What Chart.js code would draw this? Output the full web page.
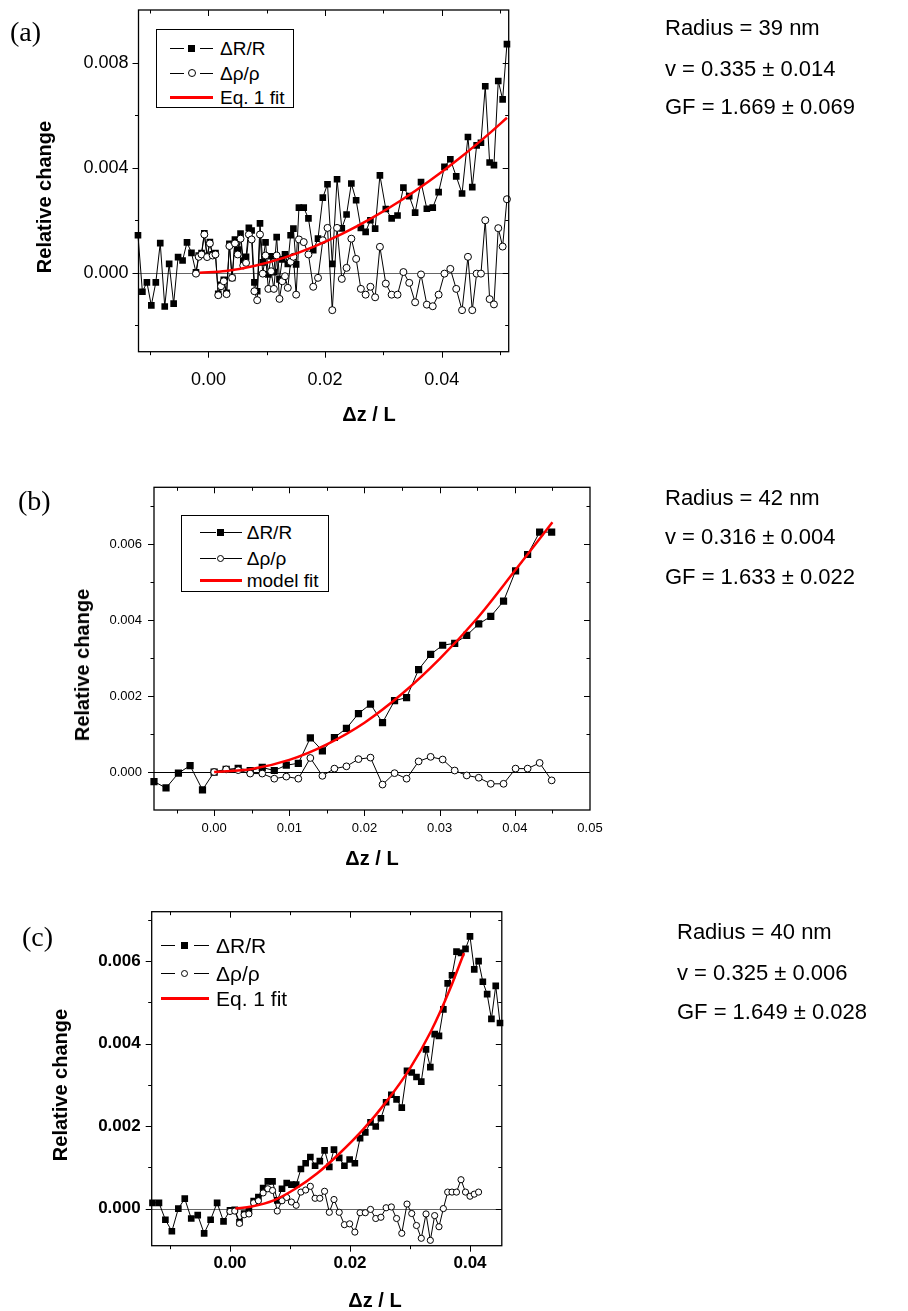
<!DOCTYPE html>
<html>
<head>
<meta charset="utf-8">
<script src="https://cdn.jsdelivr.net/npm/chart.js@4.4.1/dist/chart.umd.min.js"></script>
<style>
  body { margin: 0; background: #fff; width: 908px; height: 1311px; position: relative; overflow: hidden;
         font-family: "Liberation Sans", Arial, Helvetica, sans-serif; color: #000; }
  canvas { position: absolute; left: 0; }
  .o { position: absolute; white-space: nowrap; }
</style>
</head>
<body>
<canvas id="chartA" width="908" height="460" style="top:-20px"></canvas>
<canvas id="chartB" width="908" height="440" style="top:440px"></canvas>
<canvas id="chartC" width="908" height="431" style="top:880px"></canvas>
<div id="overlay"></div>

<script>
/* ===== data ===== */

// panel (a) : Radius = 39 nm
const dzA = [-0.01209,-0.01133,-0.01056,-0.00980,-0.00903,-0.00827,-0.00750,-0.00674,-0.00597,-0.00521,
  -0.00444,-0.00368,-0.00291,-0.00214,-0.00167,-0.00119,-0.00071,-0.00023,0.00024,0.00072,
  0.00120,0.00168,0.00215,0.00263,0.00311,0.00359,0.00406,0.00454,0.00502,0.00550,
  0.00597,0.00645,0.00693,0.00740,0.00788,0.00836,0.00884,0.00931,0.00979,0.01027,
  0.01075,0.01122,0.01170,0.01218,0.01266,0.01313,0.01361,0.01409,0.01457,0.01504,
  0.01552,0.01634,0.01715,0.01797,0.01879,0.01961,0.02042,0.02124,0.02206,0.02287,
  0.02369,0.02451,0.02533,0.02614,0.02696,0.02778,0.02859,0.02941,0.03042,0.03142,
  0.03243,0.03344,0.03444,0.03545,0.03646,0.03746,0.03847,0.03948,0.04048,0.04149,
  0.04250,0.04350,0.04451,0.04525,0.04600,0.04674,0.04748,0.04823,0.04897,0.04971,
  0.05046,0.05120];
const dRA = [0.00143,-0.00072,-0.00036,-0.00124,-0.00036,0.00113,-0.00128,0.00034,-0.00117,0.00060,
  0.00047,0.00116,0.00076,0.00002,0.00066,0.00075,0.00150,0.00065,0.00117,0.00070,
  0.00075,-0.00080,-0.00046,-0.00027,-0.00076,0.00110,-0.00019,0.00127,0.00089,0.00149,
  0.00047,0.00061,0.00171,0.00161,-0.00036,-0.00070,0.00188,0.00040,0.00116,-0.00006,
  0.00063,0.00003,0.00136,-0.00025,0.00051,0.00070,0.00034,0.00143,0.00168,0.00032,
  0.00248,0.00248,0.00207,0.00086,0.00130,0.00286,0.00337,0.00034,0.00356,0.00169,
  0.00222,0.00340,0.00276,0.00171,0.00156,0.00200,0.00168,0.00371,0.00243,0.00207,
  0.00218,0.00324,0.00292,0.00229,0.00345,0.00244,0.00248,0.00307,0.00403,0.00432,
  0.00367,0.00302,0.00517,0.00326,0.00485,0.00495,0.00710,0.00420,0.00410,0.00730,
  0.00660,0.00870];
const dRhoA = [null,null,null,null,null,null,null,null,null,null,null,null,null,
  -0.00003,0.00061,0.00070,0.00146,0.00060,0.00112,0.00066,0.00070,-0.00085,-0.00051,
  -0.00032,-0.00081,0.00102,-0.00019,0.00112,0.00070,0.00130,0.00028,0.00038,0.00146,
  0.00127,-0.00070,-0.00104,0.00146,-0.00003,0.00066,-0.00061,0.00006,-0.00061,0.00066,
  -0.00099,-0.00032,-0.00013,-0.00057,0.00042,0.00061,-0.00083,0.00127,0.00117,0.00070,
  -0.00053,-0.00019,0.00124,0.00171,-0.00142,0.00171,-0.00023,0.00019,0.00130,0.00053,
  -0.00061,-0.00083,-0.00053,-0.00093,0.00099,-0.00041,-0.00083,-0.00083,0.00003,-0.00038,
  -0.00112,-0.00006,-0.00121,-0.00127,-0.00083,-0.00003,0.00015,-0.00061,-0.00142,0.00061,
  -0.00142,-0.00003,-0.00003,0.00200,-0.00100,-0.00120,0.00170,0.00100,0.00280];
const fitXA = [-0.0015,0.003,0.008,0.013,0.018,0.023,0.028,0.033,0.038,0.043,0.048,0.0512];
const fitYA = [0,0.00007,0.00027,0.00058,0.00099,0.00149,0.00208,0.00275,0.00351,0.00435,0.00527,0.0059];
const xTicksA = [0, 0.02, 0.04];
const yTicksA = [0, 0.004, 0.008];

// panel (b) : Radius = 42 nm
const dzB = [-0.0080,-0.0064,-0.00475,-0.0032,-0.00155,0,0.0016,0.0032,0.0048,0.0064,
  0.0080,0.0096,0.0112,0.0128,0.0144,0.0160,0.0176,0.0192,0.0208,0.0224,
  0.0240,0.0256,0.0272,0.0288,0.0304,0.0320,0.0336,0.0352,0.0368,0.0385,
  0.0401,0.0417,0.0433,0.0449];
const dRB = [-0.00025,-0.00042,-0.00003,0.00017,-0.00047,0,0.00007,0.00010,0.00004,0.00012,
  0.00004,0.00018,0.00023,0.00090,0.00056,0.00091,0.00115,0.00154,0.00179,0.00130,
  0.00188,0.00196,0.00270,0.00310,0.00334,0.00339,0.00360,0.00390,0.00410,0.00450,
  0.00530,0.00573,0.00632,0.00632];
const dRhoB = [null,null,null,null,null,
  0,0.00007,0.00005,-0.00004,-0.00004,-0.000175,-0.00012,-0.000175,0.00037,-0.00010,
  0.00009,0.00015,0.00034,0.00038,-0.00033,-0.00003,-0.000175,0.00028,0.00040,0.00033,
  0.00004,-0.00009,-0.00015,-0.00031,-0.00031,0.00009,0.00009,0.00024,-0.00022];
const fitXB = [0,0.005,0.01,0.015,0.02,0.025,0.03,0.035,0.04,0.045];
const fitYB = [0,0.00008,0.00032,0.00073,0.0013,0.00206,0.00298,0.00405,0.0053,0.00658];
const xTicksB = [0, 0.01, 0.02, 0.03, 0.04, 0.05];
const yTicksB = [0, 0.002, 0.004, 0.006];

// panel (c) : Radius = 40 nm
const dzC = [-0.01292,-0.01184,-0.01077,-0.00969,-0.00861,-0.00754,-0.00646,-0.00538,-0.00431,-0.00323,
  -0.00215,-0.00108,0,0.00079,0.00158,0.00236,0.00315,0.00394,0.00473,0.00552,
  0.00630,0.00709,0.00788,0.00867,0.00945,0.01024,0.01103,0.01182,0.01261,0.01339,
  0.01418,0.01497,0.01576,0.01655,0.01733,0.01820,0.01907,0.01994,0.02081,0.02168,
  0.02255,0.02342,0.02429,0.02515,0.02602,0.02689,0.02776,0.02863,0.02950,0.03029,
  0.03108,0.03188,0.03267,0.03339,0.03411,0.03483,0.03556,0.03628,0.03700,0.03775,
  0.03850,0.03925,0.04000,0.04071,0.04143,0.04214,0.04286,0.04357,0.04429,0.04500];
const dRC = [0.00014,0.00014,-0.00027,-0.00055,0.00000,0.00024,-0.00024,-0.00016,-0.00060,-0.00027,
  0.00014,-0.00031,-0.00004,-0.00003,-0.00033,-0.00012,-0.00005,0.00018,0.00028,0.00050,
  0.00066,0.00066,0.00020,0.00048,0.00062,0.00058,0.00058,0.00096,0.00110,0.00125,
  0.00104,0.00115,0.00141,0.00101,0.00143,0.00123,0.00104,0.00119,0.00110,0.00171,
  0.00185,0.00209,0.00199,0.00219,0.00258,0.00276,0.00265,0.00245,0.00334,0.00330,
  0.00319,0.00308,0.00386,0.00343,0.00423,0.00419,0.00483,0.00546,0.00566,0.00623,
  0.00620,0.00630,0.00660,0.00580,0.00600,0.00550,0.00520,0.00460,0.00540,0.00450];
const dRhoC = [null,null,null,null,null,null,null,null,null,null,null,null,
  -0.00007,-0.00006,-0.00036,-0.00015,-0.00013,0.00014,0.00019,0.00038,0.00048,0.00044,
  -0.00006,0.00019,0.00027,0.00016,0.00008,0.00040,0.00045,0.00054,0.00025,0.00025,
  0.00042,-0.00009,0.00022,-0.00009,-0.00039,-0.00037,-0.00057,-0.00010,-0.00010,-0.00002,
  -0.00024,-0.00021,0.00002,0.00004,-0.00024,-0.00060,0.00011,-0.00012,-0.00041,-0.00072,
  -0.00013,-0.00077,-0.00017,-0.00044,0.00000,0.00040,0.00040,0.00040,0.00070,0.00040,
  0.00030,0.00035,0.00040,null,null,null,null,null];
const fitXC = [0.0009,0.0036,0.0073,0.0109,0.0145,0.0182,0.0222,0.0261,0.0300,0.0335,0.0366,0.0390];
const fitYC = [0,0.00005,0.0002,0.00048,0.00085,0.00133,0.00192,0.0026,0.0034,0.0043,0.0053,0.0062];
const xTicksC = [0, 0.02, 0.04];
const yTicksC = [0, 0.002, 0.004, 0.006];

/* ===== drawing ===== */

const FONT = '"Liberation Sans", Arial, Helvetica, sans-serif';

function pts(xs, ys) {
  return xs.map((x, i) => ({ x: x, y: ys[i] })).filter(p => p.y !== null && p.y !== undefined);
}

function labelFor(v, list, dec) {
  const hit = list.some(l => Math.abs(l - v) < 1e-9);
  if (!hit) return '';
  return (Math.abs(v) < 1e-12 ? 0 : v).toFixed(dec);
}

// box frame, ticks (out on left/bottom, in on top/right) and the zero line
const frameTicks = {
  id: 'frameTicks',
  beforeDatasetsDraw(chart, args, o) {
    const { ctx, chartArea: a, scales: { y } } = chart;
    const y0 = Math.round(y.getPixelForValue(0)) + 0.5;
    ctx.save();
    ctx.strokeStyle = o.zero;
    ctx.lineWidth = 1;
    ctx.beginPath(); ctx.moveTo(a.left, y0); ctx.lineTo(a.right, y0); ctx.stroke();
    ctx.restore();
  },
  afterDatasetsDraw(chart, args, o) {
    const { ctx, chartArea: a, scales: { x, y } } = chart;
    ctx.save();
    ctx.strokeStyle = '#000';
    ctx.lineWidth = 1;
    ctx.beginPath();
    x.ticks.forEach(t => {
      const p = Math.round(x.getPixelForValue(t.value)) + 0.5;
      if (p <= a.left + 1 || p >= a.right - 1) return;
      const len = t.label ? o.major : o.minor;
      ctx.moveTo(p, a.bottom); ctx.lineTo(p, a.bottom + len);
      ctx.moveTo(p, a.top); ctx.lineTo(p, a.top + len);
    });
    y.ticks.forEach(t => {
      const p = Math.round(y.getPixelForValue(t.value)) + 0.5;
      if (p <= a.top + 1 || p >= a.bottom - 1) return;
      const len = t.label ? o.major : o.minor;
      ctx.moveTo(a.left - len, p); ctx.lineTo(a.left, p);
      ctx.moveTo(a.right - len, p); ctx.lineTo(a.right, p);
    });
    ctx.stroke();
    ctx.lineWidth = 1.3;
    ctx.strokeRect(a.left, a.top, a.right - a.left, a.bottom - a.top);
    ctx.restore();
  }
};

function makePanel(id, p) {
  const el = document.getElementById(id);
  const W = el.width, H = el.height;
  const tickFont = { family: FONT, size: p.tickSize, weight: p.tickWeight };
  return new Chart(el, {
    type: 'scatter',
    data: {
      datasets: [
        { data: pts(p.fitX, p.fitY), showLine: true, borderColor: '#ff0000', borderWidth: 2.5,
          pointRadius: 0, tension: 0.4, cubicInterpolationMode: 'monotone', clip: 8, order: 0 },
        { data: pts(p.dz, p.rho), showLine: true, borderColor: '#000', borderWidth: 1,
          pointStyle: 'circle', pointRadius: p.circR, pointBackgroundColor: '#fff',
          pointBorderColor: '#000', pointBorderWidth: 1, clip: 8, order: 1 },
        { data: pts(p.dz, p.dR), showLine: true, borderColor: '#000', borderWidth: 1,
          pointStyle: 'rect', pointRadius: p.sqR, pointBackgroundColor: '#000',
          pointBorderColor: '#000', pointBorderWidth: 0, clip: 8, order: 2 }
      ]
    },
    options: {
      responsive: false, animation: false, devicePixelRatio: 1,
      layout: { padding: { left: 0, top: p.box.t - p.top, right: W - p.box.r, bottom: 0 } },
      plugins: {
        legend: { display: false }, tooltip: { enabled: false },
        frameTicks: { zero: p.zero, major: 6, minor: 3.5 }
      },
      scales: {
        x: {
          type: 'linear', min: p.xMin, max: p.xMax, bounds: 'ticks',
          grid: { display: false, drawTicks: false }, border: { display: false },
          ticks: { stepSize: p.xStep, includeBounds: false, autoSkip: false, maxRotation: 0,
                   padding: p.xPad, color: '#000', font: tickFont,
                   callback: v => labelFor(v, p.xLabels, 2) },
          afterFit: s => { s.height = H - (p.box.b - p.top); }
        },
        y: {
          type: 'linear', min: p.yMin, max: p.yMax, bounds: 'ticks',
          grid: { display: false, drawTicks: false }, border: { display: false },
          ticks: { stepSize: p.yStep, includeBounds: false, autoSkip: false,
                   padding: p.yPad, color: '#000', font: tickFont,
                   callback: v => labelFor(v, p.yLabels, 3) },
          afterFit: s => { s.width = p.box.l; }
        }
      }
    },
    plugins: [frameTicks]
  });
}

makePanel('chartA', {
  top: -20, box: { l: 138.5, t: 10, r: 508.7, b: 351.7 },
  xMin: -0.012, xMax: 0.0515, xStep: 0.01, yMin: -0.003, yMax: 0.010, yStep: 0.002,
  xLabels: xTicksA, yLabels: yTicksA, tickSize: 18, tickWeight: 'normal', xPad: 17.5, yPad: 10,
  dz: dzA, dR: dRA, rho: dRhoA, fitX: fitXA, fitY: fitYA, sqR: 4.7, circR: 3.5, zero: '#666'
});
makePanel('chartB', {
  top: 440, box: { l: 154, t: 487.3, r: 590, b: 810 },
  xMin: -0.008, xMax: 0.05, xStep: 0.005, yMin: -0.001, yMax: 0.0075, yStep: 0.001,
  xLabels: xTicksB, yLabels: yTicksB, tickSize: 13, tickWeight: 'normal', xPad: 10.5, yPad: 12,
  dz: dzB, dR: dRB, rho: dRhoB, fitX: fitXB, fitY: fitYB, sqR: 5.1, circR: 3.4, zero: '#000'
});
makePanel('chartC', {
  top: 880, box: { l: 151.7, t: 911.7, r: 501.8, b: 1245.7 },
  xMin: -0.01305, xMax: 0.0453, xStep: 0.01, yMin: -0.0009, yMax: 0.0072, yStep: 0.001,
  xLabels: xTicksC, yLabels: yTicksC, tickSize: 17, tickWeight: 'bold', xPad: 7, yPad: 11,
  dz: dzC, dR: dRC, rho: dRhoC, fitX: fitXC, fitY: fitYC, sqR: 4.7, circR: 3.1, zero: '#666'
});

/* ===== text and legends (html) ===== */

const ov = document.getElementById('overlay');
function add(style, html) {
  const d = document.createElement('div');
  d.className = 'o';
  d.style.cssText = style;
  if (html !== undefined) d.textContent = html;
  ov.appendChild(d);
  return d;
}
function text(str, x, cy, size, extra) {
  add(`left:${x}px;top:${cy - 0.49 * size}px;font-size:${size}px;line-height:${size}px;${extra || ''}`, str);
}
function seg(x1, x2, y, h, c) {
  add(`left:${x1}px;top:${y - h / 2}px;width:${x2 - x1}px;height:${h}px;background:${c};`);
}
function square(cx, cy, s) {
  add(`left:${cx - s / 2}px;top:${cy - s / 2}px;width:${s}px;height:${s}px;background:#000;`);
}
function circle(cx, cy, d) {
  add(`left:${cx - d / 2}px;top:${cy - d / 2}px;width:${d}px;height:${d}px;box-sizing:border-box;border:1px solid #000;border-radius:50%;background:#fff;`);
}
function legend(L) {
  if (L.box) add(`left:${L.box[0]}px;top:${L.box[1]}px;width:${L.box[2]}px;height:${L.box[3]}px;box-sizing:border-box;border:1px solid #000;background:#fff;`);
  const [x1, x2] = L.line;
  seg(x1, L.mx - L.gap, L.rows[0], 1, '#000'); square(L.mx, L.rows[0], L.sq); seg(L.mx + L.gap, x2, L.rows[0], 1, '#000');
  seg(x1, L.mx - L.gap, L.rows[1], 1, '#000'); circle(L.mx, L.rows[1], L.ci); seg(L.mx + L.gap, x2, L.rows[1], 1, '#000');
  seg(x1, x2, L.rows[2], 2.5, '#ff0000');
  text('\u0394R/R', L.tx, L.rows[0], L.size);
  text('\u0394\u03c1/\u03c1', L.tx, L.rows[1], L.size);
  text(L.fit, L.tx, L.rows[2], L.size);
}

legend({ box: [156, 29.3, 138.3, 79], line: [170, 213.3], mx: 191.5, gap: 8, sq: 7, ci: 8,
         rows: [48.3, 73.3, 97.3], tx: 220, size: 19, fit: 'Eq. 1 fit' });
legend({ box: [180.7, 515, 148.6, 76.7], line: [200, 241.7], mx: 220.3, gap: 4, sq: 7.3, ci: 7.5,
         rows: [532.3, 558.3, 580.7], tx: 246.7, size: 19, fit: 'model fit' });
legend({ box: null, line: [160.7, 209.3], mx: 184.7, gap: 9.5, sq: 7, ci: 7,
         rows: [945, 973.3, 998.3], tx: 216, size: 21, fit: 'Eq. 1 fit' });

// panel letters
function letter(str, x, cy) {
  add(`left:${x}px;top:${cy - 16.45}px;font-family:"Liberation Serif","Times New Roman",serif;font-size:28px;line-height:28px;`, str);
}
letter('(a)', 10, 34);
letter('(b)', 18, 503);
letter('(c)', 22, 939);

// axis titles
function ytitle(cx, cy) {
  add(`left:${cx}px;top:${cy}px;font-size:20px;font-weight:bold;line-height:20px;transform:translate(-50%,-50%) rotate(-90deg);`, 'Relative change');
}
function xtitle(cx, cy) {
  add(`left:${cx}px;top:${cy}px;font-size:20px;font-weight:bold;line-height:20px;transform:translate(-50%,-50%);`, '\u0394z / L');
}
ytitle(43.5, 196.7); ytitle(82, 665); ytitle(60, 1085);
xtitle(369, 414); xtitle(372, 858); xtitle(375, 1300);

// fit results
function result(lines, x, baselines) {
  lines.forEach((s, i) => add(`left:${x}px;top:${baselines[i] - 0.8465 * 22}px;font-size:22px;line-height:22px;`, s));
}
result(['Radius = 39 nm', 'v = 0.335 \u00b1 0.014', 'GF = 1.669 \u00b1 0.069'], 665, [35.7, 76.7, 115]);
result(['Radius = 42 nm', 'v = 0.316 \u00b1 0.004', 'GF = 1.633 \u00b1 0.022'], 665, [505.5, 544.5, 584.5]);
result(['Radius = 40 nm', 'v = 0.325 \u00b1 0.006', 'GF = 1.649 \u00b1 0.028'], 677, [939.5, 980.5, 1019.5]);
</script>
</body>
</html>
